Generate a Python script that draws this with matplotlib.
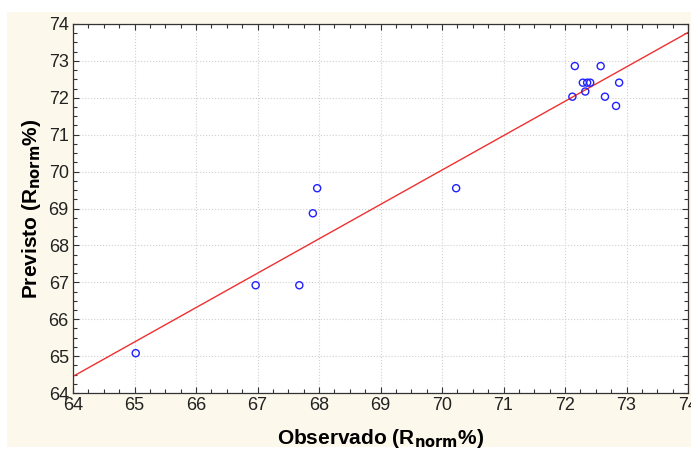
import numpy as np
import matplotlib
matplotlib.use("Agg")
import matplotlib.pyplot as plt
from matplotlib.patches import Rectangle
from matplotlib.ticker import MultipleLocator

# Observed vs predicted values
observado = [65.02, 66.97, 67.68, 67.90, 67.97, 70.23,
             72.16, 72.58, 72.29, 72.36, 72.41, 72.88,
             72.33, 72.12, 72.65, 72.83]
previsto = [65.08, 66.92, 66.92, 68.87, 69.55, 69.55,
            72.86, 72.86, 72.41, 72.41, 72.41, 72.41,
            72.17, 72.03, 72.03, 71.78]

# fitted line y = a + b*x
fit_intercept = 64.45 - 0.932 * 64
fit_slope = 0.932

plt.rcParams["font.family"] = ["Liberation Sans", "DejaVu Sans"]

fig = plt.figure(figsize=(6.91, 4.51), dpi=100, facecolor="white")
fig.patches.append(Rectangle((7 / 691, 4 / 451), 1 - 7 / 691, 435 / 451,
                             transform=fig.transFigure, facecolor="#fdf8ec",
                             edgecolor="none", zorder=-5))

ax = fig.add_axes([73 / 691, 58 / 451, 615 / 691, 369 / 451])
ax.set_facecolor("white")

ax.scatter(observado, previsto, s=26, facecolors="none", edgecolors="#2020ff",
           linewidths=1.0, zorder=3)
xs = np.array([64, 74])
ax.plot(xs, fit_intercept + fit_slope * xs, color="#f03030", linewidth=1.0, zorder=2)

ax.set_xlim(64, 74)
ax.set_ylim(64, 74)
ax.xaxis.set_major_locator(MultipleLocator(1))
ax.yaxis.set_major_locator(MultipleLocator(1))
ax.xaxis.set_minor_locator(MultipleLocator(0.25))
ax.yaxis.set_minor_locator(MultipleLocator(0.25))
ax.tick_params(which="both", direction="in", top=True, right=True,
               color="#333333", width=0.8)
ax.tick_params(which="major", length=4, labelsize=13, pad=3)
ax.tick_params(which="minor", length=3)
for lab in ax.get_xticklabels() + ax.get_yticklabels():
    lab.set_family(["Liberation Sans Narrow", "Liberation Sans"])
    lab.set_color("#222222")
ax.grid(True, which="major", color="#d0d0d0", linestyle=":", linewidth=0.8)
for s in ax.spines.values():
    s.set_color("#333333")
    s.set_linewidth(0.9)

ax.set_xlabel("Observado (R$_{\\mathbf{norm}}$%)", fontsize=15, fontweight="bold", labelpad=9)
ax.set_ylabel("Previsto (R$_{\\mathbf{norm}}$%)", fontsize=15, fontweight="bold", labelpad=4)

fig.savefig("out.png", dpi=100, facecolor=fig.get_facecolor())
